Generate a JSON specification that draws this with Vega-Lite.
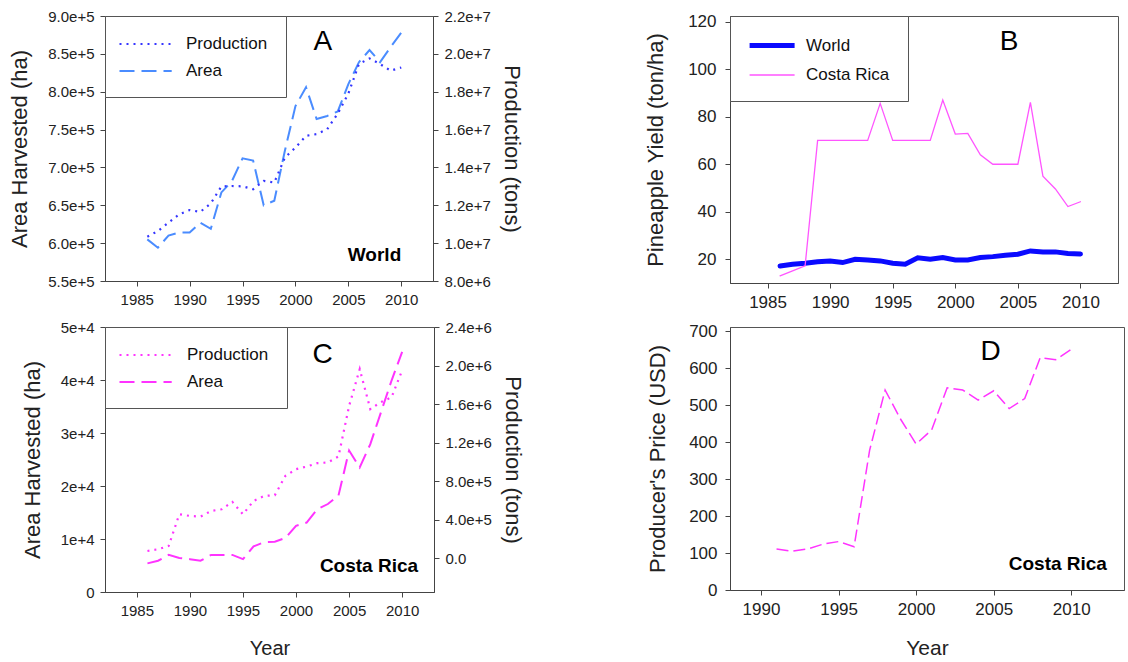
{
  "$schema": "https://vega.github.io/schema/vega-lite/v6.json",
  "padding": {"left": 8, "top": 8, "right": 0, "bottom": 0},
  "background": "white",
  "datasets": {
    "d": [
      {"p": "A", "s": "Area", "yr": 1986, "v": 605000},
      {"p": "A", "s": "Area", "yr": 1987, "v": 594000},
      {"p": "A", "s": "Area", "yr": 1988, "v": 610000},
      {"p": "A", "s": "Area", "yr": 1989, "v": 614000},
      {"p": "A", "s": "Area", "yr": 1990, "v": 614000},
      {"p": "A", "s": "Area", "yr": 1991, "v": 627000},
      {"p": "A", "s": "Area", "yr": 1992, "v": 619000},
      {"p": "A", "s": "Area", "yr": 1993, "v": 667000},
      {"p": "A", "s": "Area", "yr": 1994, "v": 682000},
      {"p": "A", "s": "Area", "yr": 1995, "v": 712000},
      {"p": "A", "s": "Area", "yr": 1996, "v": 709000},
      {"p": "A", "s": "Area", "yr": 1997, "v": 650000},
      {"p": "A", "s": "Area", "yr": 1998, "v": 656000},
      {"p": "A", "s": "Area", "yr": 1999, "v": 722000},
      {"p": "A", "s": "Area", "yr": 2000, "v": 781000},
      {"p": "A", "s": "Area", "yr": 2001, "v": 806000},
      {"p": "A", "s": "Area", "yr": 2002, "v": 764000},
      {"p": "A", "s": "Area", "yr": 2003, "v": 768000},
      {"p": "A", "s": "Area", "yr": 2004, "v": 774000},
      {"p": "A", "s": "Area", "yr": 2005, "v": 810000},
      {"p": "A", "s": "Area", "yr": 2006, "v": 839000},
      {"p": "A", "s": "Area", "yr": 2007, "v": 855000},
      {"p": "A", "s": "Area", "yr": 2008, "v": 839000},
      {"p": "A", "s": "Area", "yr": 2009, "v": 859000},
      {"p": "A", "s": "Area", "yr": 2010, "v": 878000},
      {"p": "A", "s": "Production", "yr": 1986, "v": 10340000},
      {"p": "A", "s": "Production", "yr": 1987, "v": 10640000},
      {"p": "A", "s": "Production", "yr": 1988, "v": 11080000},
      {"p": "A", "s": "Production", "yr": 1989, "v": 11520000},
      {"p": "A", "s": "Production", "yr": 1990, "v": 11750000},
      {"p": "A", "s": "Production", "yr": 1991, "v": 11650000},
      {"p": "A", "s": "Production", "yr": 1992, "v": 12100000},
      {"p": "A", "s": "Production", "yr": 1993, "v": 13000000},
      {"p": "A", "s": "Production", "yr": 1994, "v": 13020000},
      {"p": "A", "s": "Production", "yr": 1995, "v": 13000000},
      {"p": "A", "s": "Production", "yr": 1996, "v": 12850000},
      {"p": "A", "s": "Production", "yr": 1997, "v": 13290000},
      {"p": "A", "s": "Production", "yr": 1998, "v": 13200000},
      {"p": "A", "s": "Production", "yr": 1999, "v": 14520000},
      {"p": "A", "s": "Production", "yr": 2000, "v": 15050000},
      {"p": "A", "s": "Production", "yr": 2001, "v": 15670000},
      {"p": "A", "s": "Production", "yr": 2002, "v": 15760000},
      {"p": "A", "s": "Production", "yr": 2003, "v": 16020000},
      {"p": "A", "s": "Production", "yr": 2004, "v": 16850000},
      {"p": "A", "s": "Production", "yr": 2005, "v": 17900000},
      {"p": "A", "s": "Production", "yr": 2006, "v": 19460000},
      {"p": "A", "s": "Production", "yr": 2007, "v": 19760000},
      {"p": "A", "s": "Production", "yr": 2008, "v": 19460000},
      {"p": "A", "s": "Production", "yr": 2009, "v": 19110000},
      {"p": "A", "s": "Production", "yr": 2010, "v": 19280000},
      {"p": "B", "s": "World", "yr": 1986, "v": 17.2},
      {"p": "B", "s": "World", "yr": 1987, "v": 17.9},
      {"p": "B", "s": "World", "yr": 1988, "v": 18.3},
      {"p": "B", "s": "World", "yr": 1989, "v": 18.9},
      {"p": "B", "s": "World", "yr": 1990, "v": 19.3},
      {"p": "B", "s": "World", "yr": 1991, "v": 18.6},
      {"p": "B", "s": "World", "yr": 1992, "v": 20.0},
      {"p": "B", "s": "World", "yr": 1993, "v": 19.7},
      {"p": "B", "s": "World", "yr": 1994, "v": 19.3},
      {"p": "B", "s": "World", "yr": 1995, "v": 18.3},
      {"p": "B", "s": "World", "yr": 1996, "v": 17.9},
      {"p": "B", "s": "World", "yr": 1997, "v": 20.6},
      {"p": "B", "s": "World", "yr": 1998, "v": 20.0},
      {"p": "B", "s": "World", "yr": 1999, "v": 20.7},
      {"p": "B", "s": "World", "yr": 2000, "v": 19.7},
      {"p": "B", "s": "World", "yr": 2001, "v": 19.7},
      {"p": "B", "s": "World", "yr": 2002, "v": 20.7},
      {"p": "B", "s": "World", "yr": 2003, "v": 21.1},
      {"p": "B", "s": "World", "yr": 2004, "v": 21.7},
      {"p": "B", "s": "World", "yr": 2005, "v": 22.1},
      {"p": "B", "s": "World", "yr": 2006, "v": 23.5},
      {"p": "B", "s": "World", "yr": 2007, "v": 23.1},
      {"p": "B", "s": "World", "yr": 2008, "v": 23.1},
      {"p": "B", "s": "World", "yr": 2009, "v": 22.4},
      {"p": "B", "s": "World", "yr": 2010, "v": 22.2},
      {"p": "B", "s": "Costa Rica", "yr": 1986, "v": 13.0},
      {"p": "B", "s": "Costa Rica", "yr": 1987, "v": 15.1},
      {"p": "B", "s": "Costa Rica", "yr": 1988, "v": 17.2},
      {"p": "B", "s": "Costa Rica", "yr": 1989, "v": 70.0},
      {"p": "B", "s": "Costa Rica", "yr": 1990, "v": 70.0},
      {"p": "B", "s": "Costa Rica", "yr": 1991, "v": 70.0},
      {"p": "B", "s": "Costa Rica", "yr": 1992, "v": 70.0},
      {"p": "B", "s": "Costa Rica", "yr": 1993, "v": 70.0},
      {"p": "B", "s": "Costa Rica", "yr": 1994, "v": 85.6},
      {"p": "B", "s": "Costa Rica", "yr": 1995, "v": 70.0},
      {"p": "B", "s": "Costa Rica", "yr": 1996, "v": 70.0},
      {"p": "B", "s": "Costa Rica", "yr": 1997, "v": 70.0},
      {"p": "B", "s": "Costa Rica", "yr": 1998, "v": 70.0},
      {"p": "B", "s": "Costa Rica", "yr": 1999, "v": 87.0},
      {"p": "B", "s": "Costa Rica", "yr": 2000, "v": 72.7},
      {"p": "B", "s": "Costa Rica", "yr": 2001, "v": 73.0},
      {"p": "B", "s": "Costa Rica", "yr": 2002, "v": 64.0},
      {"p": "B", "s": "Costa Rica", "yr": 2003, "v": 60.0},
      {"p": "B", "s": "Costa Rica", "yr": 2004, "v": 60.0},
      {"p": "B", "s": "Costa Rica", "yr": 2005, "v": 60.0},
      {"p": "B", "s": "Costa Rica", "yr": 2006, "v": 86.0},
      {"p": "B", "s": "Costa Rica", "yr": 2007, "v": 55.0},
      {"p": "B", "s": "Costa Rica", "yr": 2008, "v": 49.6},
      {"p": "B", "s": "Costa Rica", "yr": 2009, "v": 42.2},
      {"p": "B", "s": "Costa Rica", "yr": 2010, "v": 44.2},
      {"p": "C", "s": "Area", "yr": 1986, "v": 5400},
      {"p": "C", "s": "Area", "yr": 1987, "v": 5900},
      {"p": "C", "s": "Area", "yr": 1988, "v": 7000},
      {"p": "C", "s": "Area", "yr": 1989, "v": 6400},
      {"p": "C", "s": "Area", "yr": 1990, "v": 6200},
      {"p": "C", "s": "Area", "yr": 1991, "v": 5900},
      {"p": "C", "s": "Area", "yr": 1992, "v": 7000},
      {"p": "C", "s": "Area", "yr": 1993, "v": 7000},
      {"p": "C", "s": "Area", "yr": 1994, "v": 7000},
      {"p": "C", "s": "Area", "yr": 1995, "v": 6200},
      {"p": "C", "s": "Area", "yr": 1996, "v": 8600},
      {"p": "C", "s": "Area", "yr": 1997, "v": 9400},
      {"p": "C", "s": "Area", "yr": 1998, "v": 9500},
      {"p": "C", "s": "Area", "yr": 1999, "v": 10200},
      {"p": "C", "s": "Area", "yr": 2000, "v": 12500},
      {"p": "C", "s": "Area", "yr": 2001, "v": 13100},
      {"p": "C", "s": "Area", "yr": 2002, "v": 15600},
      {"p": "C", "s": "Area", "yr": 2003, "v": 16600},
      {"p": "C", "s": "Area", "yr": 2004, "v": 18200},
      {"p": "C", "s": "Area", "yr": 2005, "v": 26700},
      {"p": "C", "s": "Area", "yr": 2006, "v": 23500},
      {"p": "C", "s": "Area", "yr": 2007, "v": 27900},
      {"p": "C", "s": "Area", "yr": 2008, "v": 33900},
      {"p": "C", "s": "Area", "yr": 2009, "v": 39900},
      {"p": "C", "s": "Area", "yr": 2010, "v": 45300},
      {"p": "C", "s": "Production", "yr": 1986, "v": 74000},
      {"p": "C", "s": "Production", "yr": 1987, "v": 92000},
      {"p": "C", "s": "Production", "yr": 1988, "v": 126000},
      {"p": "C", "s": "Production", "yr": 1989, "v": 455000},
      {"p": "C", "s": "Production", "yr": 1990, "v": 438000},
      {"p": "C", "s": "Production", "yr": 1991, "v": 431000},
      {"p": "C", "s": "Production", "yr": 1992, "v": 490000},
      {"p": "C", "s": "Production", "yr": 1993, "v": 507000},
      {"p": "C", "s": "Production", "yr": 1994, "v": 584000},
      {"p": "C", "s": "Production", "yr": 1995, "v": 455000},
      {"p": "C", "s": "Production", "yr": 1996, "v": 594000},
      {"p": "C", "s": "Production", "yr": 1997, "v": 646000},
      {"p": "C", "s": "Production", "yr": 1998, "v": 653000},
      {"p": "C", "s": "Production", "yr": 1999, "v": 854000},
      {"p": "C", "s": "Production", "yr": 2000, "v": 923000},
      {"p": "C", "s": "Production", "yr": 2001, "v": 951000},
      {"p": "C", "s": "Production", "yr": 2002, "v": 986000},
      {"p": "C", "s": "Production", "yr": 2003, "v": 993000},
      {"p": "C", "s": "Production", "yr": 2004, "v": 1055000},
      {"p": "C", "s": "Production", "yr": 2005, "v": 1580000},
      {"p": "C", "s": "Production", "yr": 2006, "v": 1963000},
      {"p": "C", "s": "Production", "yr": 2007, "v": 1547000},
      {"p": "C", "s": "Production", "yr": 2008, "v": 1620000},
      {"p": "C", "s": "Production", "yr": 2009, "v": 1670000},
      {"p": "C", "s": "Production", "yr": 2010, "v": 1950000},
      {"p": "D", "s": "Price", "yr": 1991, "v": 111},
      {"p": "D", "s": "Price", "yr": 1992, "v": 105},
      {"p": "D", "s": "Price", "yr": 1993, "v": 111},
      {"p": "D", "s": "Price", "yr": 1994, "v": 124},
      {"p": "D", "s": "Price", "yr": 1995, "v": 131},
      {"p": "D", "s": "Price", "yr": 1996, "v": 117},
      {"p": "D", "s": "Price", "yr": 1997, "v": 378},
      {"p": "D", "s": "Price", "yr": 1998, "v": 541},
      {"p": "D", "s": "Price", "yr": 1999, "v": 462},
      {"p": "D", "s": "Price", "yr": 2000, "v": 395},
      {"p": "D", "s": "Price", "yr": 2001, "v": 433},
      {"p": "D", "s": "Price", "yr": 2002, "v": 547},
      {"p": "D", "s": "Price", "yr": 2003, "v": 541},
      {"p": "D", "s": "Price", "yr": 2004, "v": 514},
      {"p": "D", "s": "Price", "yr": 2005, "v": 539},
      {"p": "D", "s": "Price", "yr": 2006, "v": 491},
      {"p": "D", "s": "Price", "yr": 2007, "v": 518},
      {"p": "D", "s": "Price", "yr": 2008, "v": 629},
      {"p": "D", "s": "Price", "yr": 2009, "v": 623},
      {"p": "D", "s": "Price", "yr": 2010, "v": 651}
    ]
  },
  "columns": 2,
  "spacing": {"row": 8, "column": 120},
  "concat": [
    {
      "width": 328,
      "height": 265,
      "layer": [
        {
          "layer": [
            {
              "data": {"name": "d"},
              "transform": [{"filter": "datum.p == 'A' && datum.s == 'Area'"}],
              "mark": {"type": "line", "strokeWidth": 2},
              "encoding": {
                "x": {"field": "yr", "type": "quantitative", "scale": {"domain": [1982, 2013], "nice": false, "zero": false},
                      "axis": {"values": [1985, 1990, 1995, 2000, 2005, 2010], "format": "d", "title": null, "labelOverlap": false}},
                "y": {"field": "v", "type": "quantitative", "scale": {"domain": [550000, 900000], "nice": false, "zero": false},
                      "axis": {"values": [550000, 600000, 650000, 700000, 750000, 800000, 850000, 900000], "format": ".1e", "title": "Area Harvested (ha)", "titlePadding": 16, "labelOverlap": false}},
                "color": {"field": "s", "type": "nominal", "scale": {"domain": ["Production", "Area"], "range": ["#3535ff", "#4a8cff"]},
                          "legend": {"title": null, "orient": "top-left", "offset": 0, "padding": 18, "strokeColor": "#555", "fillColor": "white",
                                     "symbolType": "M-1.5,0H4.3", "symbolSize": 324, "symbolStrokeWidth": 2, "labelFontSize": 17, "labelOffset": 43, "rowPadding": 9}},
                "strokeDash": {"field": "s", "type": "nominal", "scale": {"domain": ["Production", "Area"], "range": [[2, 5], [15, 7]]},
                               "legend": {"title": null, "orient": "top-left", "offset": 0, "padding": 18, "strokeColor": "#555", "fillColor": "white",
                                          "symbolType": "M-1.5,0H4.3", "symbolSize": 324, "symbolStrokeWidth": 2, "labelFontSize": 17, "labelOffset": 43, "rowPadding": 9}}
              }
            },
            {
              "data": {"values": [{}]},
              "mark": {"type": "text", "text": "A", "fontSize": 28, "align": "center", "baseline": "middle", "color": "black"},
              "encoding": {
                "x": {"datum": 2002.6, "axis": {"values": [1985, 1990, 1995, 2000, 2005, 2010], "format": "d", "title": null, "labelOverlap": false}},
                "y": {"datum": 866000, "axis": {"values": [550000, 600000, 650000, 700000, 750000, 800000, 850000, 900000], "format": ".1e", "title": "Area Harvested (ha)", "titlePadding": 16, "labelOverlap": false}}
              }
            },
            {
              "data": {"values": [{}]},
              "mark": {"type": "text", "text": "World", "fontSize": 19, "fontWeight": "bold", "align": "right", "baseline": "middle", "color": "black"},
              "encoding": {
                "x": {"datum": 2010, "axis": {"values": [1985, 1990, 1995, 2000, 2005, 2010], "format": "d", "title": null, "labelOverlap": false}},
                "y": {"datum": 584000, "axis": {"values": [550000, 600000, 650000, 700000, 750000, 800000, 850000, 900000], "format": ".1e", "title": "Area Harvested (ha)", "titlePadding": 16, "labelOverlap": false}}
              }
            }
          ]
        },
        {
          "data": {"name": "d"},
          "transform": [{"filter": "datum.p == 'A' && datum.s == 'Production'"}],
          "mark": {"type": "line", "strokeWidth": 2.2},
          "encoding": {
            "x": {"field": "yr", "type": "quantitative", "axis": {"values": [1985, 1990, 1995, 2000, 2005, 2010], "format": "d", "title": null, "labelOverlap": false}},
            "y": {"field": "v", "type": "quantitative", "scale": {"domain": [8000000, 22000000], "nice": false, "zero": false},
                  "axis": {"orient": "right", "values": [8000000, 10000000, 12000000, 14000000, 16000000, 18000000, 20000000, 22000000], "format": ".1e", "title": "Production (tons)", "titlePadding": 9, "labelOverlap": false}},
            "color": {"field": "s", "type": "nominal"},
            "strokeDash": {"field": "s", "type": "nominal"}
          }
        }
      ],
      "resolve": {"scale": {"y": "independent"}}
    },
    {
      "width": 388,
      "height": 267,
      "layer": [
        {
          "data": {"name": "d"},
          "transform": [{"filter": "datum.p == 'B'"}],
          "mark": {"type": "line", "strokeCap": "round"},
          "encoding": {
            "x": {"field": "yr", "type": "quantitative", "scale": {"domain": [1982, 2013], "nice": false, "zero": false},
                  "axis": {"values": [1985, 1990, 1995, 2000, 2005, 2010], "format": "d", "title": null, "labelFontSize": 17, "labelOverlap": false}},
            "y": {"field": "v", "type": "quantitative", "scale": {"domain": [10, 122.4], "nice": false, "zero": false},
                  "axis": {"values": [20, 40, 60, 80, 100, 120], "title": "Pineapple Yield (ton/ha)", "labelFontSize": 17, "labelPadding": 9, "titlePadding": 20, "labelOverlap": false}},
            "color": {"field": "s", "type": "nominal", "scale": {"domain": ["World", "Costa Rica"], "range": ["#0a0aff", "#ff55ff"]},
                      "legend": {"title": null, "orient": "top-left", "offset": 0, "padding": 18, "strokeColor": "#555", "fillColor": "white",
                                 "symbolType": "M-1.1,0H3.9", "symbolSize": 324, "labelFontSize": 17, "labelOffset": 35, "rowPadding": 9}},
            "strokeWidth": {"field": "s", "type": "nominal", "scale": {"domain": ["World", "Costa Rica"], "range": [5, 1.3]},
                            "legend": {"title": null, "orient": "top-left", "offset": 0, "padding": 18, "strokeColor": "#555", "fillColor": "white",
                                       "symbolType": "M-1.1,0H3.9", "symbolSize": 324, "labelFontSize": 17, "labelOffset": 35, "rowPadding": 9}}
          }
        },
        {
          "data": {"values": [{}]},
          "mark": {"type": "text", "text": "B", "fontSize": 28, "align": "center", "baseline": "middle", "color": "black"},
          "encoding": {
            "x": {"datum": 2004.3, "axis": {"values": [1985, 1990, 1995, 2000, 2005, 2010], "format": "d", "title": null, "labelFontSize": 17, "labelOverlap": false}},
            "y": {"datum": 111.4, "axis": {"values": [20, 40, 60, 80, 100, 120], "title": "Pineapple Yield (ton/ha)", "labelFontSize": 17, "labelPadding": 9, "titlePadding": 20, "labelOverlap": false}}
          }
        }
      ]
    },
    {
      "width": 329,
      "height": 265,
      "layer": [
        {
          "layer": [
            {
              "data": {"name": "d"},
              "transform": [{"filter": "datum.p == 'C' && datum.s == 'Area'"}],
              "mark": {"type": "line", "strokeWidth": 2},
              "encoding": {
                "x": {"field": "yr", "type": "quantitative", "scale": {"domain": [1982, 2013], "nice": false, "zero": false},
                      "axis": {"values": [1985, 1990, 1995, 2000, 2005, 2010], "format": "d", "title": "Year", "titlePadding": 20, "labelOverlap": false}},
                "y": {"field": "v", "type": "quantitative", "scale": {"domain": [0, 50000], "nice": false, "zero": false},
                      "axis": {"values": [0, 10000, 20000, 30000, 40000, 50000], "labelExpr": "datum.value == 0 ? '0' : format(datum.value, '.0e')", "title": "Area Harvested (ha)", "titlePadding": 16, "labelOverlap": false}},
                "color": {"field": "s", "type": "nominal", "scale": {"domain": ["Production", "Area"], "range": ["#ff33ff", "#ff33ff"]},
                          "legend": {"title": null, "orient": "top-left", "offset": 0, "padding": 18, "strokeColor": "#555", "fillColor": "white",
                                     "symbolType": "M-1.5,0H4.3", "symbolSize": 324, "symbolStrokeWidth": 2, "labelFontSize": 17, "labelOffset": 44, "rowPadding": 9}},
                "strokeDash": {"field": "s", "type": "nominal", "scale": {"domain": ["Production", "Area"], "range": [[2, 5], [15, 7]]},
                               "legend": {"title": null, "orient": "top-left", "offset": 0, "padding": 18, "strokeColor": "#555", "fillColor": "white",
                                          "symbolType": "M-1.5,0H4.3", "symbolSize": 324, "symbolStrokeWidth": 2, "labelFontSize": 17, "labelOffset": 44, "rowPadding": 9}}
              }
            },
            {
              "data": {"values": [{}]},
              "mark": {"type": "text", "text": "C", "fontSize": 28, "align": "center", "baseline": "middle", "color": "black"},
              "encoding": {
                "x": {"datum": 2002.5, "axis": {"values": [1985, 1990, 1995, 2000, 2005, 2010], "format": "d", "title": "Year", "titlePadding": 20, "labelOverlap": false}},
                "y": {"datum": 44700, "axis": {"values": [0, 10000, 20000, 30000, 40000, 50000], "labelExpr": "datum.value == 0 ? '0' : format(datum.value, '.0e')", "title": "Area Harvested (ha)", "titlePadding": 16, "labelOverlap": false}}
              }
            },
            {
              "data": {"values": [{}]},
              "mark": {"type": "text", "text": "Costa Rica", "fontSize": 19, "fontWeight": "bold", "align": "right", "baseline": "middle", "color": "black"},
              "encoding": {
                "x": {"datum": 2011.5, "axis": {"values": [1985, 1990, 1995, 2000, 2005, 2010], "format": "d", "title": "Year", "titlePadding": 20, "labelOverlap": false}},
                "y": {"datum": 4900, "axis": {"values": [0, 10000, 20000, 30000, 40000, 50000], "labelExpr": "datum.value == 0 ? '0' : format(datum.value, '.0e')", "title": "Area Harvested (ha)", "titlePadding": 16, "labelOverlap": false}}
              }
            }
          ]
        },
        {
          "data": {"name": "d"},
          "transform": [{"filter": "datum.p == 'C' && datum.s == 'Production'"}],
          "mark": {"type": "line", "strokeWidth": 2.2},
          "encoding": {
            "x": {"field": "yr", "type": "quantitative", "axis": {"values": [1985, 1990, 1995, 2000, 2005, 2010], "format": "d", "title": "Year", "titlePadding": 20, "labelOverlap": false}},
            "y": {"field": "v", "type": "quantitative", "scale": {"domain": [-352000, 2400000], "nice": false, "zero": false},
                  "axis": {"orient": "right", "values": [0, 400000, 800000, 1200000, 1600000, 2000000, 2400000], "labelExpr": "datum.value == 0 ? '0.0' : format(datum.value, '.1e')", "title": "Production (tons)", "titlePadding": 9, "labelOverlap": false}},
            "color": {"field": "s", "type": "nominal"},
            "strokeDash": {"field": "s", "type": "nominal"}
          }
        }
      ],
      "resolve": {"scale": {"y": "independent"}}
    },
    {
      "width": 394,
      "height": 263,
      "layer": [
        {
          "data": {"name": "d"},
          "transform": [{"filter": "datum.p == 'D'"}],
          "mark": {"type": "line", "strokeWidth": 1.5, "color": "#ff33ff", "strokeDash": [12, 5]},
          "encoding": {
            "x": {"field": "yr", "type": "quantitative", "scale": {"domain": [1988, 2013.4], "nice": false, "zero": false},
                  "axis": {"values": [1990, 1995, 2000, 2005, 2010], "format": "d", "title": "Year", "labelFontSize": 17, "titleFontSize": 21, "titlePadding": 20, "labelOverlap": false}},
            "y": {"field": "v", "type": "quantitative", "scale": {"domain": [0, 711.6], "nice": false, "zero": false},
                  "axis": {"values": [0, 100, 200, 300, 400, 500, 600, 700], "title": "Producer's Price (USD)", "labelFontSize": 17, "labelPadding": 8, "titlePadding": 19, "labelOverlap": false}}
          }
        },
        {
          "data": {"values": [{}]},
          "mark": {"type": "text", "text": "D", "fontSize": 28, "align": "center", "baseline": "middle", "color": "black"},
          "encoding": {
            "x": {"datum": 2004.8, "axis": {"values": [1990, 1995, 2000, 2005, 2010], "format": "d", "title": "Year", "labelFontSize": 17, "titleFontSize": 21, "titlePadding": 20, "labelOverlap": false}},
            "y": {"datum": 643, "axis": {"values": [0, 100, 200, 300, 400, 500, 600, 700], "title": "Producer's Price (USD)", "labelFontSize": 17, "labelPadding": 8, "titlePadding": 19, "labelOverlap": false}}
          }
        },
        {
          "data": {"values": [{}]},
          "mark": {"type": "text", "text": "Costa Rica", "fontSize": 19, "fontWeight": "bold", "align": "right", "baseline": "middle", "color": "black"},
          "encoding": {
            "x": {"datum": 2012.3, "axis": {"values": [1990, 1995, 2000, 2005, 2010], "format": "d", "title": "Year", "labelFontSize": 17, "titleFontSize": 21, "titlePadding": 20, "labelOverlap": false}},
            "y": {"datum": 71, "axis": {"values": [0, 100, 200, 300, 400, 500, 600, 700], "title": "Producer's Price (USD)", "labelFontSize": 17, "labelPadding": 8, "titlePadding": 19, "labelOverlap": false}}
          }
        }
      ]
    }
  ],
  "resolve": {
    "scale": {"color": "independent", "strokeDash": "independent", "strokeWidth": "independent"},
    "legend": {"color": "independent", "strokeDash": "independent", "strokeWidth": "independent"}
  },
  "config": {
    "font": "Liberation Sans",
    "view": {"stroke": "#555", "strokeWidth": 1},
    "axis": {
      "labelFont": "Liberation Sans", "labelFontSize": 15, "labelColor": "#222",
      "titleFont": "Liberation Sans", "titleFontSize": 22, "titleFontWeight": "normal", "titleColor": "#222",
      "tickSize": 5, "labelPadding": 6, "grid": false, "domainColor": "#444", "tickColor": "#444",
      "labelFlush": false, "labelOverlap": false, "titlePadding": 14
    },
    "axisX": {"titleFontSize": 20},
    "legend": {"labelFont": "Liberation Sans", "labelColor": "#111"},
    "text": {"font": "Liberation Sans"}
  }
}
